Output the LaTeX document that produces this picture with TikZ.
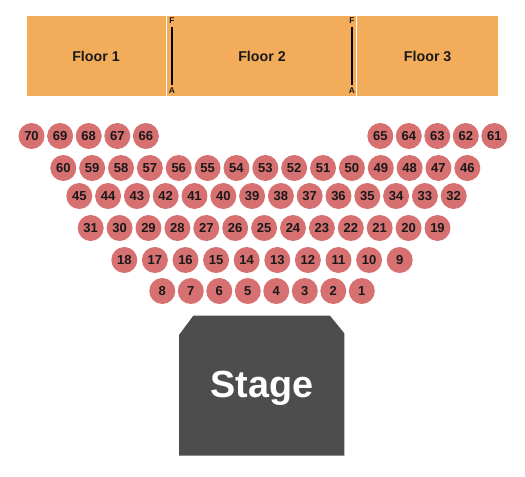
\documentclass[tikz,border=0pt]{standalone}
\usepackage{fontspec}
\setmainfont{Liberation Sans}
\usetikzlibrary{positioning}

\definecolor{floororange}{RGB}{243,173,90}
\definecolor{seatred}{RGB}{215,112,112}
\definecolor{stagegray}{RGB}{77,77,77}
\definecolor{inkblack}{RGB}{25,25,25}

\tikzset{
  seat/.style={circle,fill=seatred,minimum size=0.52cm,inner sep=0pt,
    text=inkblack,font=\bfseries\fontsize{7.4}{8}\selectfont},
  floorlabel/.style={text=inkblack,font=\bfseries\fontsize{8.1}{9}\selectfont},
  faletter/.style={text=inkblack,inner sep=1.5pt,font=\bfseries\fontsize{4.8}{5}\selectfont}
}

\begin{document}
\begin{tikzpicture}[x=0.02cm,y=-0.02cm]
      \useasboundingbox (0,0) rectangle (525,477);

      % floor areas
      \fill[floororange] (27,16) rectangle (165.7,96);
      \fill[floororange] (166.7,16) rectangle (356.3,96);
      \fill[floororange] (357.3,16) rectangle (497.7,96);
      \node[floorlabel] (floor1) at (96,56) {Floor 1};
      \node[floorlabel] (floor2) at (262,56) {Floor 2};
      \node[floorlabel] (floor3) at (427.7,56) {Floor 3};

      \node[faletter] (fleft) at (172,21) {F};
      \node[faletter] (aleft) at (172,91) {A};
      \node[faletter] (fright) at (352,21) {F};
      \node[faletter] (aright) at (352,91) {A};
      \draw[line width=0.6pt] (fleft) -- (aleft);
      \draw[line width=0.6pt] (fright) -- (aright);

      % seats, row by row: first/last/x/y/spacing
      \foreach \first/\last/\x/\y/\dx in {70/66/31.5/136/28.6, 65/61/380.3/136/28.5,
          60/46/63.3/168/28.86, 45/32/79.3/196/28.8, 31/19/90.7/228/28.9,
          18/9/124.3/260/30.6, 8/1/162.3/291/28.5}
        \foreach \n in {\first,...,\last}
          \node[seat] (s\n) at ({\x+\dx*(\first-\n)},\y) {\n};

      % stage
      \fill[stagegray] (179,335) -- (193.3,315.7) -- (330,315.7) -- (344.3,333.3)
        -- (344.3,455.7) -- (179,455.7) -- cycle;
      \node[anchor=base,text=white,font=\bfseries\fontsize{21.5}{23}\selectfont]
        (stage) at (261.7,397.3) {Stage};
\end{tikzpicture}
\end{document}
